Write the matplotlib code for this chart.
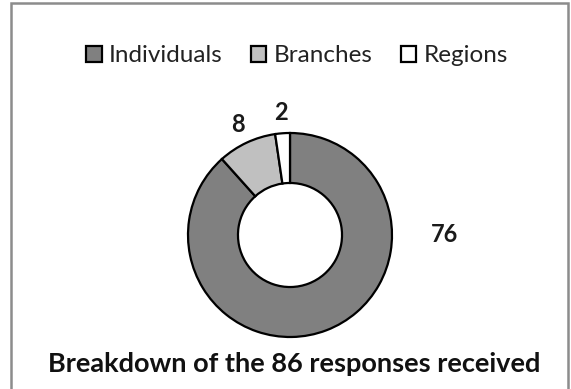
import numpy as np
import matplotlib.pyplot as plt
from matplotlib.patches import Rectangle

categories = ["Individuals", "Branches", "Regions"]
responses = [76, 8, 2]
colors = ["#808080", "#c0c0c0", "#ffffff"]
title = "Breakdown of the 86 responses received"

plt.rcParams["font.family"] = ["Lato", "DejaVu Sans"]

fig = plt.figure(figsize=(5.71, 3.89), dpi=100)

# grey frame round the chart area
fig.patches.append(Rectangle((11 / 571, -0.01), 557 / 571, 1 - 3 / 389 + 0.01,
                             transform=fig.transFigure, fill=False,
                             edgecolor="#8c8c8c", linewidth=1.8))

r_px = 102
half = 112
cx, cy = 290, 235
ax = fig.add_axes([(cx - half) / 571, (389 - cy - half) / 389,
                   2 * half / 571, 2 * half / 389])

wedges, texts = ax.pie(
    responses,
    labels=[str(v) for v in responses],
    colors=colors,
    startangle=90,
    counterclock=False,
    radius=1,
    labeldistance=1.2,
    wedgeprops=dict(width=0.49, edgecolor="black", linewidth=1.6),
    textprops=dict(fontsize=17, fontweight="bold", color="#1a1a1a"),
)
for t in texts:
    t.set_ha("center")
    t.set_va("center")
# the big slice's label sits to the right of the ring
texts[0].set_position((1.51, 0.0))

ax.set_xlim(-half / r_px, half / r_px)
ax.set_ylim(-half / r_px, half / r_px)
ax.set_aspect("equal")
ax.axis("off")

fig.legend(wedges, categories, loc="center", bbox_to_anchor=(0.52, 1 - 56 / 389),
           ncol=3, frameon=False, fontsize=17.5, handlelength=0.65, handleheight=0.65,
           handletextpad=0.3, columnspacing=1.15, borderaxespad=0,
           labelcolor="#222222")

fig.text(0.516, 1 - 364 / 389, title, ha="center", va="center",
         fontsize=19.5, fontweight="bold", color="#111111")

fig.savefig("out.png", dpi=100)
